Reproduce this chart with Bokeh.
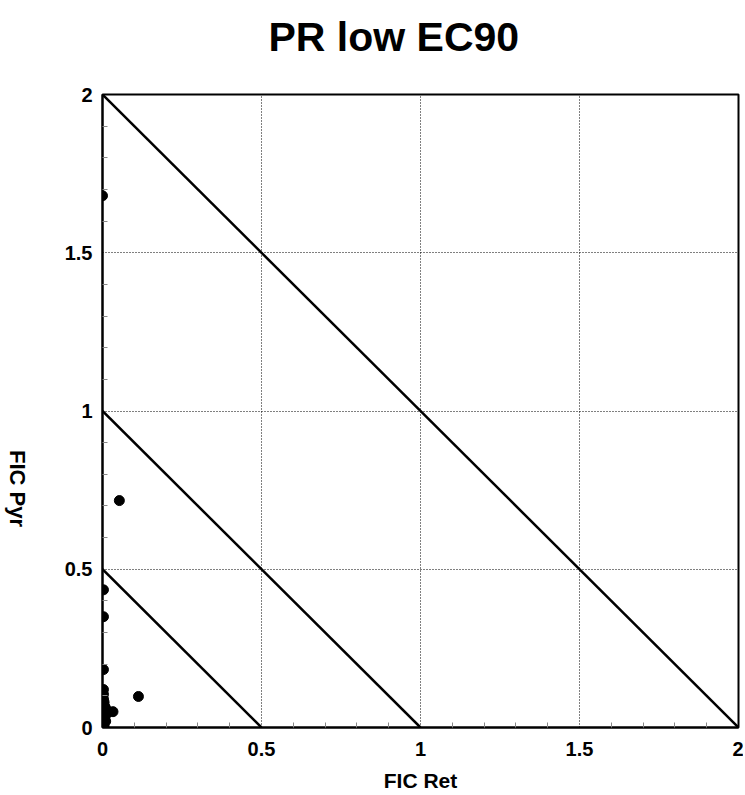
import math
from bokeh.plotting import figure
from bokeh.layouts import row
from bokeh.models import FixedTicker, Range1d, ColumnDataSource, Title, Label
from bokeh.embed import file_html
from bokeh.resources import INLINE

# FIC values (Retinoid on x, Pyr on y)
fic_ret = [0.0, 0.053, 0.003, 0.003, 0.003, 0.113, 0.033,
           0.003, 0.003, 0.003, 0.005, 0.003, 0.008, 0.01, 0.005,
           0.003, 0.008, 0.003, 0.01, 0.003, 0.005, 0.003, 0.015]
fic_pyr = [1.68, 0.717, 0.435, 0.35, 0.183, 0.098, 0.05,
           0.12, 0.105, 0.09, 0.08, 0.07, 0.065, 0.06, 0.05,
           0.04, 0.035, 0.025, 0.02, 0.01, 0.005, 0.0, 0.045]

# isobologram reference lines: x + y = level
iso_levels = [0.5, 1.0, 2.0]

major_ticks = [0, 0.5, 1, 1.5, 2]
tick_labels = ["0", "0.5", "1", "1.5", "2"]

FONT = "Liberation Sans"
H = 795
LAB_W = 34

# narrow strip holding the y-axis title (reads top to bottom)
lab = figure(width=LAB_W, height=H, output_backend="svg", toolbar_location=None,
             x_range=Range1d(0, 1), y_range=Range1d(0, 1), min_border=0)
lab.axis.visible = False
lab.grid.visible = False
lab.outline_line_color = None
lab.add_layout(Label(x=17, y=239, x_units="screen", y_units="screen",
                     text="FIC Pyr", angle=-math.pi / 2, text_align="center",
                     text_baseline="middle", text_font=FONT,
                     text_font_size="22px", text_font_style="bold",
                     text_color="black"))

p = figure(width=743 - LAB_W, height=H, output_backend="svg", toolbar_location=None,
           x_range=Range1d(0, 2), y_range=Range1d(0, 2),
           min_border_left=102 - LAB_W, min_border_right=5, min_border_top=94,
           min_border_bottom=H - 727)

# spacer between frame and title (keeps the title high without moving the frame)
p.add_layout(Title(text=" ", text_font_size="1px", standoff=27), "above")

p.title.text = "PR low EC90"
p.title.text_font = FONT
p.title.text_font_size = "41px"
p.title.text_font_style = "bold"
p.title.text_color = "black"
p.title.align = "left"
p.title.offset = 166
p.title.standoff = 10

p.outline_line_color = "black"
p.outline_line_width = 2
p.background_fill_color = "white"
p.border_fill_color = "white"

minor = [round(i * 0.1, 2) for i in range(21) if i % 5 != 0]
for ax in (p.xaxis[0], p.yaxis[0]):
    ax.ticker = FixedTicker(ticks=major_ticks, minor_ticks=minor)
    ax.major_label_overrides = {t: l for t, l in zip(major_ticks, tick_labels)}
    ax.major_label_text_font = FONT
    ax.major_label_text_font_size = "20px"
    ax.major_label_text_font_style = "bold"
    ax.major_label_text_color = "black"
    ax.axis_line_color = "black"
    ax.axis_line_width = 2
    ax.major_tick_in = 0
    ax.major_tick_out = 0
    ax.minor_tick_in = 5
    ax.minor_tick_out = 0
    ax.minor_tick_line_color = "#888888"

p.xaxis.major_label_standoff = 14
p.yaxis.major_label_standoff = 10

p.xaxis.axis_label = "FIC Ret"
p.xaxis.axis_label_text_font = FONT
p.xaxis.axis_label_text_font_size = "21px"
p.xaxis.axis_label_text_font_style = "bold"
p.xaxis.axis_label_text_color = "black"
p.xaxis.axis_label_standoff = 10

for g in (p.xgrid[0], p.ygrid[0]):
    g.ticker = FixedTicker(ticks=major_ticks)
    g.grid_line_color = "black"
    g.grid_line_dash = "1 2"
    g.grid_line_width = 1

for lv in iso_levels:
    p.line([0, lv], [lv, 0], line_color="black", line_width=2.5)

src = ColumnDataSource(dict(x=fic_ret, y=fic_pyr))
p.scatter("x", "y", source=src, size=10, color="black")

layout = row(lab, p, spacing=0)
open("out.html", "w").write(file_html(layout, INLINE))
